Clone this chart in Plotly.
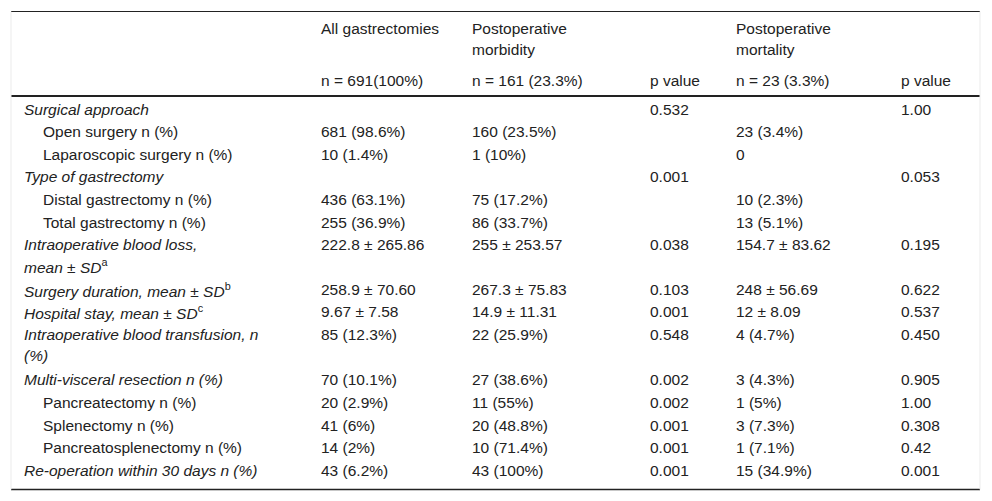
import plotly.graph_objects as go

# header
col_titles = ["All gastrectomies", "Postoperative<br>morbidity", "", "Postoperative<br>mortality", ""]
col_counts = ["n = 691(100%)", "n = 161 (23.3%)", "p value", "n = 23 (3.3%)", "p value"]

# rows: label, italic (section) flag, values for 5 columns
labels = [
    "Surgical approach",
    "Open surgery n (%)",
    "Laparoscopic surgery n (%)",
    "Type of gastrectomy",
    "Distal gastrectomy n (%)",
    "Total gastrectomy n (%)",
    "Intraoperative blood loss,<br>mean ± SD<sup>a</sup>",
    "Surgery duration, mean ± SD<sup>b</sup>",
    "Hospital stay, mean ± SD<sup>c</sup>",
    "Intraoperative blood transfusion, n<br>(%)",
    "Multi-visceral resection n (%)",
    "Pancreatectomy n (%)",
    "Splenectomy n (%)",
    "Pancreatosplenectomy n (%)",
    "Re-operation within 30 days n (%)",
]
italic = [True, False, False, True, False, False, True, True, True, True, True,
          False, False, False, True]
all_gastrectomies = ["", "681 (98.6%)", "10 (1.4%)", "", "436 (63.1%)", "255 (36.9%)",
                     "222.8 ± 265.86", "258.9 ± 70.60", "9.67 ± 7.58", "85 (12.3%)",
                     "70 (10.1%)", "20 (2.9%)", "41 (6%)", "14 (2%)", "43 (6.2%)"]
morbidity = ["", "160 (23.5%)", "1 (10%)", "", "75 (17.2%)", "86 (33.7%)",
             "255 ± 253.57", "267.3 ± 75.83", "14.9 ± 11.31", "22 (25.9%)",
             "27 (38.6%)", "11 (55%)", "20 (48.8%)", "10 (71.4%)", "43 (100%)"]
p_morbidity = ["0.532", "", "", "0.001", "", "", "0.038", "0.103", "0.001", "0.548",
               "0.002", "0.002", "0.001", "0.001", "0.001"]
mortality = ["", "23 (3.4%)", "0", "", "10 (2.3%)", "13 (5.1%)",
             "154.7 ± 83.62", "248 ± 56.69", "12 ± 8.09", "4 (4.7%)",
             "3 (4.3%)", "1 (5%)", "3 (7.3%)", "1 (7.1%)", "15 (34.9%)"]
p_mortality = ["1.00", "", "", "0.053", "", "", "0.195", "0.622", "0.537", "0.450",
               "0.905", "1.00", "0.308", "0.42", "0.001"]

# page pixel layout (the plot div sits 8px into the page)
OFF = 8
W, H = 992 - 2 * OFF, 501 - 2 * OFF
col_x = [320, 471, 649, 735, 900]
row_y = [109, 131.5, 154, 176.5, 199.5, 222, 244.5, 289.5, 311.5, 334, 379.5,
         402.5, 425, 447.5, 470]
line_gap = 21.5
head_y = [28, 49.5]
count_y = 80.5
txt = "#222222"
font = dict(family="Liberation Sans, Arial, sans-serif", size=15.5, color=txt)

fig = go.Figure()
ann = []


def add(x, y, text):
    if not text:
        return
    ann.append(dict(x=x, y=y, xref="x", yref="y", text=text, showarrow=False,
                    xanchor="left", yanchor="middle", align="left", font=font,
                    borderpad=0))


def add_lines(x, y, text, slant=False):
    for k, part in enumerate(text.split("<br>")):
        if not part:
            continue
        if slant:
            # footnote marks stay upright
            part = "<i>" + part.replace("<sup>", "</i><sup>").replace("</sup>", "</sup><i>") + "</i>"
            part = part.replace("<i></i>", "")
        add(x, y + k * line_gap, part)


for j in range(5):
    parts = col_titles[j].split("<br>")
    for k, part in enumerate(parts):
        add(col_x[j], head_y[k], part)
    add(col_x[j], count_y, col_counts[j])

columns = [all_gastrectomies, morbidity, p_morbidity, mortality, p_mortality]
for i, lab in enumerate(labels):
    y = row_y[i]
    if italic[i]:
        add_lines(22.5, y, lab, slant=True)
    else:
        add_lines(41.5, y, lab)
    for j, col in enumerate(columns):
        add(col_x[j], y, col[i])

shapes = [
    dict(type="line", x0=11, x1=980, y0=11.5, y1=11.5, line=dict(color="#222", width=1)),
    dict(type="line", x0=11, x1=980, y0=96, y1=96, line=dict(color="#222", width=2.2)),
    dict(type="line", x0=11, x1=980, y0=489.5, y1=489.5, line=dict(color="#222", width=1.5)),
    dict(type="line", x0=11, x1=11, y0=11.5, y1=489.5, line=dict(color="#ebebeb", width=1)),
    dict(type="line", x0=980, x1=980, y0=11.5, y1=489.5, line=dict(color="#ebebeb", width=1)),
]

fig.update_layout(
    width=W, height=H, margin=dict(l=0, r=0, t=0, b=0),
    paper_bgcolor="white", plot_bgcolor="white",
    xaxis=dict(range=[OFF, OFF + W], visible=False, fixedrange=True),
    yaxis=dict(range=[OFF + H, OFF], visible=False, fixedrange=True),
    annotations=ann, shapes=shapes, showlegend=False,
)
fig.write_html("out.html")
